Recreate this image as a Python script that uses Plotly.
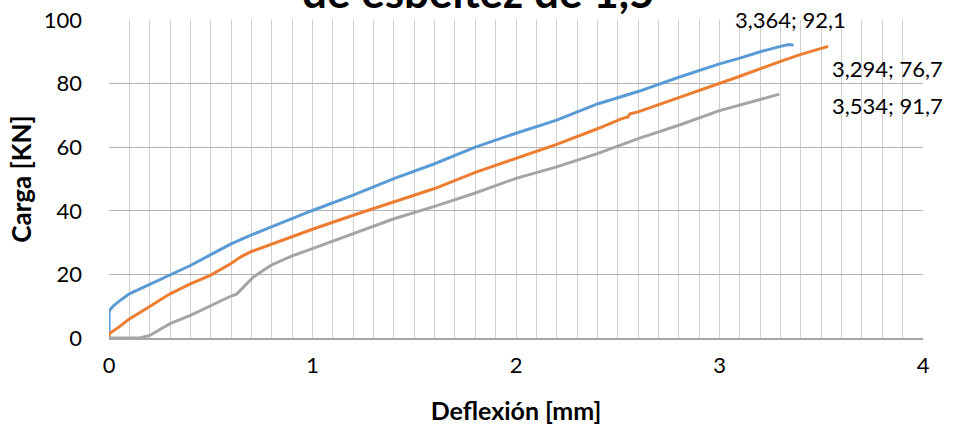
import plotly.graph_objects as go

# Series data (Deflexión [mm], Carga [KN])
blue_x = [0, 0, 0.02, 0.05, 0.1, 0.2, 0.3, 0.4, 0.5, 0.6, 0.7, 0.8, 0.9, 1.0, 1.2, 1.4, 1.6, 1.8, 2.0,
          2.2, 2.4, 2.6, 2.8, 3.0, 3.1, 3.2, 3.3, 3.34, 3.364]
blue_y = [0, 8.5, 10.0, 11.6, 13.9, 16.9, 20.0, 22.8, 26.2, 29.6, 32.4, 35.0, 37.6, 40.1, 44.9, 50.1, 54.8, 60.0, 64.4,
          68.5, 73.6, 77.5, 82.0, 86.2, 88.0, 90.0, 91.7, 92.3, 92.1]

orange_x = [0, 0, 0.05, 0.1, 0.2, 0.3, 0.4, 0.5, 0.6, 0.65, 0.7, 0.8, 0.9, 1.0, 1.2, 1.4, 1.6, 1.8, 2.0,
            2.2, 2.4, 2.52, 2.55, 2.56, 2.6, 2.8, 3.0, 3.1, 3.3, 3.4, 3.534]
orange_y = [0, 1.3, 3.5, 6.0, 9.9, 13.9, 17.0, 19.8, 23.4, 25.6, 27.2, 29.6, 31.9, 34.2, 38.6, 42.8, 47.0, 52.1, 56.5,
            60.9, 65.8, 69.0, 69.5, 70.5, 71.1, 75.5, 80.1, 82.3, 87.0, 89.2, 91.7]

gray_x = [0, 0.15, 0.2, 0.3, 0.4, 0.5, 0.6, 0.627, 0.71, 0.8, 0.9, 1.0, 1.2, 1.4, 1.6, 1.8, 2.0,
          2.2, 2.4, 2.6, 2.8, 3.0, 3.2, 3.294]
gray_y = [0, 0, 0.8, 4.5, 7.1, 10.2, 13.2, 13.8, 19.2, 23.0, 25.8, 28.1, 32.8, 37.5, 41.4, 45.6, 50.2,
          53.8, 58.0, 62.7, 66.9, 71.5, 75.0, 76.7]

# Data labels (text and placement as fractions of the plot area)
label_text = ["3,364; 92,1", "3,294; 76,7", "3,534; 91,7"]
label_px = [0.8378, 0.957, 0.957]
label_py = [1.003, 0.8475, 0.7327]

title_text = "de esbeltez de 1,5"
x_title = "Deflexión [mm]"
y_title = "Carga [KN]"

FONT = "Lato"

fig = go.Figure()
for xs, ys, col in [(blue_x, blue_y, "#5B9BD5"), (orange_x, orange_y, "#ED7D31"), (gray_x, gray_y, "#A5A5A5")]:
    fig.add_trace(go.Scatter(x=xs, y=ys, mode="lines", line=dict(color=col, width=3),
                             showlegend=False, hoverinfo="x+y"))

for t, lx, ly in zip(label_text, label_px, label_py):
    fig.add_annotation(x=lx, y=ly, xref="paper", yref="paper", text=t, showarrow=False,
                       xanchor="center", yanchor="middle",
                       font=dict(family=FONT, size=22, color="#000000"))

fig.add_annotation(x=(478 - 109) / 814, y=1.003, xref="paper", yref="paper",
                   text="<b>" + title_text + "</b>", showarrow=False, xanchor="center", yanchor="bottom",
                   font=dict(family=FONT, size=44, color="#000000"))

fig.update_layout(
    width=954, height=428,
    margin=dict(l=109, r=31, t=20, b=90, pad=0, autoexpand=False),
    paper_bgcolor="white", plot_bgcolor="white",
    font=dict(family=FONT, size=22, color="#000000"),
    xaxis=dict(range=[0, 4], dtick=1, tick0=0, showgrid=True, gridcolor="#D0D0D0", gridwidth=1,
               minor=dict(dtick=0.1, showgrid=True, gridcolor="#D0D0D0", gridwidth=1),
               zeroline=False, showline=True, linecolor="#A6A6A6", linewidth=1.5,
               ticks="", ticklabelstandoff=7, automargin=False,
               title=dict(text="<b>" + x_title + "</b>", font=dict(family=FONT, size=25), standoff=25),
               tickfont=dict(family=FONT, size=22)),
    yaxis=dict(range=[0, 100], dtick=20, tick0=0, showgrid=True, gridcolor="#B4B4B4", gridwidth=1,
               zeroline=False, showline=False, ticks="", ticklabelstandoff=26, automargin=False,
               title=dict(text="<b>" + y_title + "</b>", font=dict(family=FONT, size=26), standoff=4),
               tickfont=dict(family=FONT, size=22)),
)

fig.write_html("out.html", config={"displayModeBar": False},
               post_script="document.body.style.margin='0';")
